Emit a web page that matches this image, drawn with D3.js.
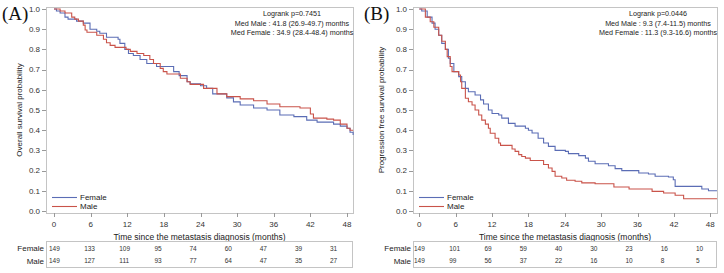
<!DOCTYPE html>
<html>
<head>
<meta charset="utf-8">
<script src="https://cdn.jsdelivr.net/npm/d3@7"></script>
<style>
  body { margin: 0; background: #fff; }
  text { font-family: "Liberation Sans", Arial, sans-serif; }
</style>
</head>
<body>
<svg id="chart" width="724" height="273"></svg>
<script>
// step points [month, survival]
const osFemale = [[0,1],[0.4,0.99],[1.0,0.98],[1.8,0.96],[2.3,0.95],[3.7,0.94],[4.8,0.93],[5.9,0.90],[7.0,0.89],[7.5,0.88],[8.6,0.86],[10.5,0.85],[10.8,0.83],[11.6,0.80],[12.2,0.78],[13.0,0.77],[14.1,0.75],[15.2,0.73],[16.8,0.715],[19.6,0.69],[20.5,0.67],[21.8,0.64],[22.3,0.63],[24.0,0.62],[25.0,0.607],[26.0,0.58],[28.3,0.56],[29.4,0.54],[30.5,0.525],[32.7,0.51],[34.9,0.50],[37.0,0.475],[39.3,0.467],[41.4,0.45],[43.1,0.44],[45.8,0.43],[46.9,0.42],[48.0,0.41],[48.5,0.39],[49.0,0.376]];
const osMale = [[0,1],[1.0,0.99],[1.8,0.98],[2.9,0.96],[3.4,0.95],[4.0,0.94],[4.8,0.92],[5.1,0.896],[5.4,0.885],[7.0,0.87],[8.1,0.85],[8.6,0.833],[9.2,0.82],[10.0,0.81],[11.8,0.80],[12.5,0.79],[13.6,0.78],[14.7,0.77],[15.7,0.75],[16.3,0.73],[17.4,0.706],[17.9,0.69],[18.5,0.678],[20.7,0.657],[21.8,0.64],[22.3,0.627],[24.5,0.607],[26.7,0.58],[28.3,0.566],[30.5,0.555],[32.7,0.546],[34.9,0.53],[37.0,0.516],[40.3,0.51],[42.0,0.48],[42.5,0.46],[44.7,0.455],[45.8,0.45],[46.9,0.43],[48.0,0.41],[48.5,0.40],[49.0,0.40]];
const pfsFemale = [[0,1],[0.4,0.99],[1.3,0.96],[2.1,0.93],[2.6,0.90],[3.2,0.87],[3.7,0.83],[4.3,0.80],[4.8,0.756],[5.1,0.73],[5.7,0.69],[6.5,0.665],[7.0,0.64],[7.6,0.607],[8.1,0.59],[9.2,0.574],[10.1,0.55],[10.6,0.53],[11.4,0.50],[12.0,0.483],[13.1,0.475],[13.6,0.46],[14.7,0.434],[15.8,0.42],[17.5,0.41],[18.0,0.40],[18.6,0.386],[19.6,0.36],[20.5,0.337],[21.3,0.32],[22.4,0.30],[24.1,0.295],[24.6,0.284],[26.3,0.274],[27.4,0.262],[27.9,0.246],[29.0,0.234],[31.2,0.224],[32.3,0.21],[33.4,0.20],[36.2,0.188],[37.8,0.183],[38.9,0.172],[41.1,0.168],[41.9,0.155],[42.2,0.122],[46.6,0.109],[47.7,0.10],[49.1,0.10]];
const pfsMale = [[0,1],[1.0,0.96],[1.8,0.937],[2.4,0.91],[3.2,0.87],[3.7,0.84],[4.3,0.80],[4.6,0.764],[5.1,0.715],[5.4,0.69],[6.5,0.673],[6.8,0.64],[7.0,0.607],[7.6,0.558],[8.1,0.541],[8.7,0.525],[9.2,0.50],[9.8,0.475],[10.3,0.45],[10.9,0.43],[11.4,0.41],[11.7,0.385],[12.5,0.36],[13.1,0.337],[13.4,0.325],[15.3,0.307],[15.8,0.295],[16.4,0.279],[16.9,0.27],[17.5,0.262],[18.3,0.25],[20.5,0.23],[21.3,0.213],[21.9,0.196],[22.4,0.172],[23.5,0.163],[24.3,0.152],[25.7,0.147],[26.8,0.139],[29.0,0.135],[32.1,0.119],[34.6,0.109],[38.4,0.097],[40.3,0.089],[42.2,0.078],[43.6,0.061],[49.1,0.061]];

const xTicks = [0, 6, 12, 18, 24, 30, 36, 42, 48];
const yTicks = [0, 0.1, 0.2, 0.3, 0.4, 0.5, 0.6, 0.7, 0.8, 0.9, 1.0];
const osRiskFemale = [149, 133, 109, 95, 74, 60, 47, 39, 31];
const osRiskMale = [149, 127, 111, 93, 77, 64, 47, 35, 27];
const pfsRiskFemale = [149, 101, 69, 59, 40, 30, 23, 16, 10];
const pfsRiskMale = [149, 99, 56, 37, 22, 16, 10, 8, 5];

const blue = "#5b6db5", red = "#c9534a";
const svg = d3.select("#chart");

const panels = [
  { tag: "(A)", ox: 0, left: 46, right: 353, x0: 54, x48: 347, ylab: "Overall survival probability",
    stats: ["Logrank p=0.7451", "Med Male : 41.8 (26.9-49.7) months", "Med Female : 34.9 (28.4-48.4) months"], statX: 292,
    female: osFemale, male: osMale, riskF: osRiskFemale, riskM: osRiskMale, tabL: 49, tabR: 330 },
  { tag: "(B)", ox: 362, left: 413, right: 717, x0: 419.3, x48: 710.3, ylab: "Progression free survival probability",
    stats: ["Logrank p=0.0446", "Med Male : 9.3 (7.4-11.5) months", "Med Female : 11.3 (9.3-16.6) months"], statX: 658,
    female: pfsFemale, male: pfsMale, riskF: pfsRiskFemale, riskM: pfsRiskMale, tabL: 414, tabR: 696 }
];

const frameTop = 7, frameBottom = 213;

panels.forEach(p => {
  const x = d3.scaleLinear().domain([0, 48]).range([p.x0, p.x48]);
  const y = d3.scaleLinear().domain([0, 1]).range([211, 9]);
  const g = svg.append("g");

  // panel tag
  g.append("text").attr("x", p.ox + 2).attr("y", 20)
    .style("font-family", "'Liberation Serif', 'Times New Roman', serif")
    .style("font-size", "19px").attr("fill", "#111").text(p.tag);

  // frame
  g.append("rect").attr("x", p.left + 0.5).attr("y", frameTop + 0.5)
    .attr("width", p.right - p.left).attr("height", frameBottom - frameTop)
    .attr("fill", "none").attr("stroke", "#c4c4c4");

  // y axis ticks
  yTicks.forEach(t => {
    g.append("line").attr("x1", p.left - 4).attr("x2", p.left)
      .attr("y1", Math.round(y(t)) + 0.5).attr("y2", Math.round(y(t)) + 0.5)
      .attr("stroke", "#999");
    g.append("text").attr("x", p.left - 6).attr("y", y(t)).attr("dy", "0.35em")
      .attr("text-anchor", "end").style("font-size", "8px").attr("fill", "#333")
      .text(t.toFixed(1));
  });

  // x axis ticks
  xTicks.forEach(t => {
    g.append("line").attr("x1", Math.round(x(t)) + 0.5).attr("x2", Math.round(x(t)) + 0.5)
      .attr("y1", frameBottom).attr("y2", frameBottom + 4).attr("stroke", "#999");
    g.append("text").attr("x", x(t)).attr("y", 227)
      .attr("text-anchor", "middle").style("font-size", "8px").attr("fill", "#333")
      .text(t);
  });

  g.append("text").attr("x", (p.left + p.right) / 2).attr("y", 240)
    .attr("text-anchor", "middle").style("font-size", "8.5px").attr("fill", "#222")
    .text("Time since the metastasis diagnosis (months)");

  g.append("text").attr("transform", `translate(${p.ox + 22},110) rotate(-90)`)
    .attr("text-anchor", "middle").style("font-size", "8px").attr("fill", "#222")
    .text(p.ylab);

  // stats
  p.stats.forEach((s, i) => {
    g.append("text").attr("x", p.statX).attr("y", 16 + i * 9.7)
      .attr("text-anchor", "middle").style("font-size", "7.2px").attr("fill", "#222")
      .text(s);
  });

  // curves
  const line = d3.line().x(d => x(d[0])).y(d => y(d[1])).curve(d3.curveStepAfter);
  g.append("path").datum(p.female).attr("d", line)
    .attr("fill", "none").attr("stroke", blue).attr("stroke-width", 1.1);
  g.append("path").datum(p.male).attr("d", line)
    .attr("fill", "none").attr("stroke", red).attr("stroke-width", 1.1);

  // legend
  [["Female", blue, 197], ["Male", red, 206]].forEach(([name, c, ly]) => {
    g.append("line").attr("x1", p.left + 6).attr("x2", p.left + 31)
      .attr("y1", ly + 0.5).attr("y2", ly + 0.5).attr("stroke", c).attr("stroke-width", 1.1);
    g.append("text").attr("x", p.left + 34).attr("y", ly).attr("dy", "0.35em")
      .style("font-size", "8px").attr("fill", "#222").text(name);
  });

  // risk table
  g.append("rect").attr("x", p.left + 0.5).attr("y", 241.5)
    .attr("width", p.right - p.left - 1).attr("height", 26)
    .attr("fill", "none").attr("stroke", "#c4c4c4");
  const tx = d3.scaleLinear().domain([0, 48]).range([p.tabL, p.tabR]);
  [["Female", p.riskF, 248.5], ["Male", p.riskM, 261]].forEach(([name, vals, ry]) => {
    g.append("text").attr("x", p.left - 2).attr("y", ry).attr("dy", "0.35em")
      .attr("text-anchor", "end").style("font-size", "8px").attr("fill", "#222").text(name);
    vals.forEach((v, i) => {
      g.append("text").attr("x", tx(xTicks[i])).attr("y", ry).attr("dy", "0.35em")
        .style("font-size", "6.5px").attr("fill", "#333").text(v);
    });
  });
});
</script>
</body>
</html>
